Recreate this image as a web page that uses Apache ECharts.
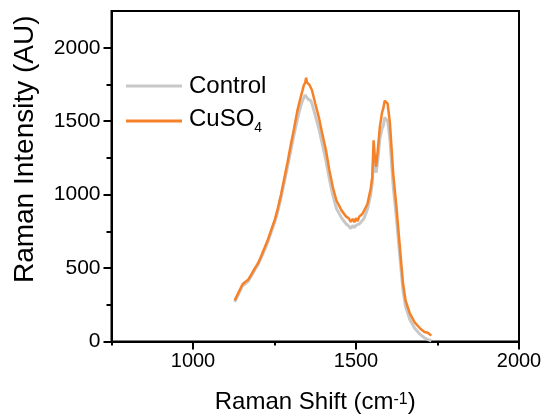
<!DOCTYPE html>
<html>
<head>
<meta charset="utf-8">
<script src="https://cdn.jsdelivr.net/npm/echarts@6/dist/echarts.min.js"></script>
<style>
  html, body { margin: 0; padding: 0; background: #fff; }
  #chart { width: 544px; height: 415px; }
</style>
</head>
<body>
<div id="chart"></div>
<script>
// Raman shift (cm-1) sampled along both spectra
const shift = [1128, 1140, 1152, 1160, 1169, 1180, 1190, 1200, 1210, 1220, 1230, 1240, 1251, 1260, 1270, 1280,
  1290, 1300, 1310, 1320, 1330, 1336, 1340, 1344, 1347, 1350, 1353, 1357, 1361, 1365, 1375, 1386, 1397, 1408,
  1418, 1429, 1440, 1456, 1470, 1478, 1484, 1490, 1495, 1500, 1505, 1510, 1514, 1520, 1525, 1535, 1545, 1550,
  1554, 1558, 1562, 1568, 1573, 1580, 1584, 1588, 1591, 1594, 1597, 1604, 1609, 1614, 1619, 1624, 1630, 1637,
  1644, 1652, 1665, 1680, 1696, 1710, 1720, 1726, 1731];
const control = [270, 325, 380, 392, 410, 450, 490, 525, 575, 625, 680, 745, 815, 885, 980, 1085,
  1190, 1300, 1410, 1510, 1600, 1640, 1660, 1678, 1670, 1682, 1650, 1662, 1640, 1620, 1540, 1450, 1340, 1230,
  1110, 995, 905, 840, 800, 785, 770, 790, 775, 790, 778, 800, 805, 825, 840, 900, 1000, 1080,
  1250, 1180, 1150, 1260, 1380, 1450, 1470, 1525, 1535, 1520, 1500, 1380, 1220, 1060, 950, 840, 690, 520,
  350, 240, 150, 90, 50, 25, 15, 10, 5];
const cuso4 = [280, 335, 390, 405, 420, 460, 500, 535, 585, 640, 695, 760, 830, 905, 1000, 1110,
  1220, 1340, 1450, 1570, 1660, 1710, 1745, 1760, 1795, 1762, 1775, 1748, 1758, 1710, 1620, 1526, 1410, 1300,
  1170, 1050, 960, 891, 850, 838, 815, 835, 812, 840, 820, 850, 846, 870, 880, 936, 1040, 1120,
  1370, 1250, 1190, 1330, 1458, 1560, 1590, 1640, 1652, 1630, 1620, 1488, 1320, 1147, 1030, 919, 760, 578,
  400, 280, 192, 130, 90, 65, 60, 56, 40];

const xMajor = [1000, 1500, 2000];
const xMinor = [750, 1250, 1750];
const yMajor = [0, 500, 1000, 1500, 2000];
const yMinor = [250, 750, 1250, 1750];

const font = 'Liberation Sans, Arial, sans-serif';
const black = '#000';
const plain = v => String(v);

let myChart = echarts.init(document.getElementById('chart'));

let option = {
  animation: false,
  backgroundColor: '#fff',
  grid: {
    left: 111.5,
    right: 25,
    top: 11,
    bottom: 73.5,
    outerBoundsMode: 'none',
    containLabel: false,
    show: true,
    borderColor: black,
    borderWidth: 2
  },
  legend: {
    orient: 'vertical',
    left: 121,
    top: 67,
    icon: 'rect',
    itemWidth: 56,
    itemHeight: 3,
    itemGap: 1,
    data: ['Control', 'CuSO4'],
    formatter: function (name) {
      return name === 'CuSO4' ? '{m|CuSO}{sub|4}' : name;
    },
    textStyle: {
      fontFamily: font,
      fontSize: 24,
      lineHeight: 28,
      color: black,
      padding: [0, 0, 0, 2],
      rich: {
        m: { fontFamily: font, fontSize: 24, lineHeight: 28, color: black, verticalAlign: 'top' },
        sub: { fontFamily: font, fontSize: 14, lineHeight: 14, color: black, verticalAlign: 'bottom', padding: [20, 0, 0, 0] }
      }
    }
  },
  xAxis: [
    {
      type: 'value',
      min: 750,
      max: 2000,
      interval: 250,
      position: 'bottom',
      name: 'Raman Shift (cm{sup|-1})',
      nameLocation: 'middle',
      nameGap: 47,
      nameTextStyle: {
        fontFamily: font,
        fontSize: 24,
        lineHeight: 28,
        color: black,
        rich: {
          sup: { fontFamily: font, fontSize: 16, lineHeight: 16, color: black, verticalAlign: 'top', padding: [3, 0, 0, 0] }
        }
      },
      axisLine: { lineStyle: { color: black, width: 2 } },
      axisTick: { customValues: xMajor, length: 8, lineStyle: { color: black, width: 2 } },
      axisLabel: { customValues: xMajor, formatter: plain, margin: 10, fontFamily: font, fontSize: 20, color: black },
      splitLine: { show: false }
    },
    {
      type: 'value',
      min: 750,
      max: 2000,
      interval: 250,
      position: 'bottom',
      axisLine: { show: false },
      axisTick: { customValues: xMinor, length: 4, lineStyle: { color: black, width: 2 } },
      axisLabel: { show: false },
      splitLine: { show: false }
    }
  ],
  yAxis: [
    {
      type: 'value',
      min: 0,
      max: 2250,
      interval: 250,
      position: 'left',
      name: 'Raman Intensity (AU)',
      nameLocation: 'middle',
      nameRotate: 90,
      nameGap: 72,
      nameTextStyle: {
        fontFamily: font,
        fontSize: 28,
        color: black,
        padding: [0, 0, 0, 54]
      },
      axisLine: { lineStyle: { color: black, width: 2 } },
      axisTick: { customValues: yMajor, length: 8, lineStyle: { color: black, width: 2 } },
      axisLabel: { customValues: yMajor, formatter: plain, margin: 11, fontFamily: font, fontSize: 21, color: black },
      splitLine: { show: false }
    },
    {
      type: 'value',
      min: 0,
      max: 2250,
      interval: 250,
      position: 'left',
      axisLine: { show: false },
      axisTick: { customValues: yMinor, length: 5, lineStyle: { color: black, width: 2 } },
      axisLabel: { show: false },
      splitLine: { show: false }
    }
  ],
  series: [
    {
      name: 'Control',
      type: 'line',
      symbol: 'none',
      data: shift.map((x, i) => [x, control[i]]),
      lineStyle: { color: '#c8c8c8', width: 3 },
      itemStyle: { color: '#c8c8c8' }
    },
    {
      name: 'CuSO4',
      type: 'line',
      symbol: 'none',
      data: shift.map((x, i) => [x, cuso4[i]]),
      lineStyle: { color: '#f58228', width: 2.5 },
      itemStyle: { color: '#f58228' }
    }
  ]
};

myChart.setOption(option);
</script>
</body>
</html>
